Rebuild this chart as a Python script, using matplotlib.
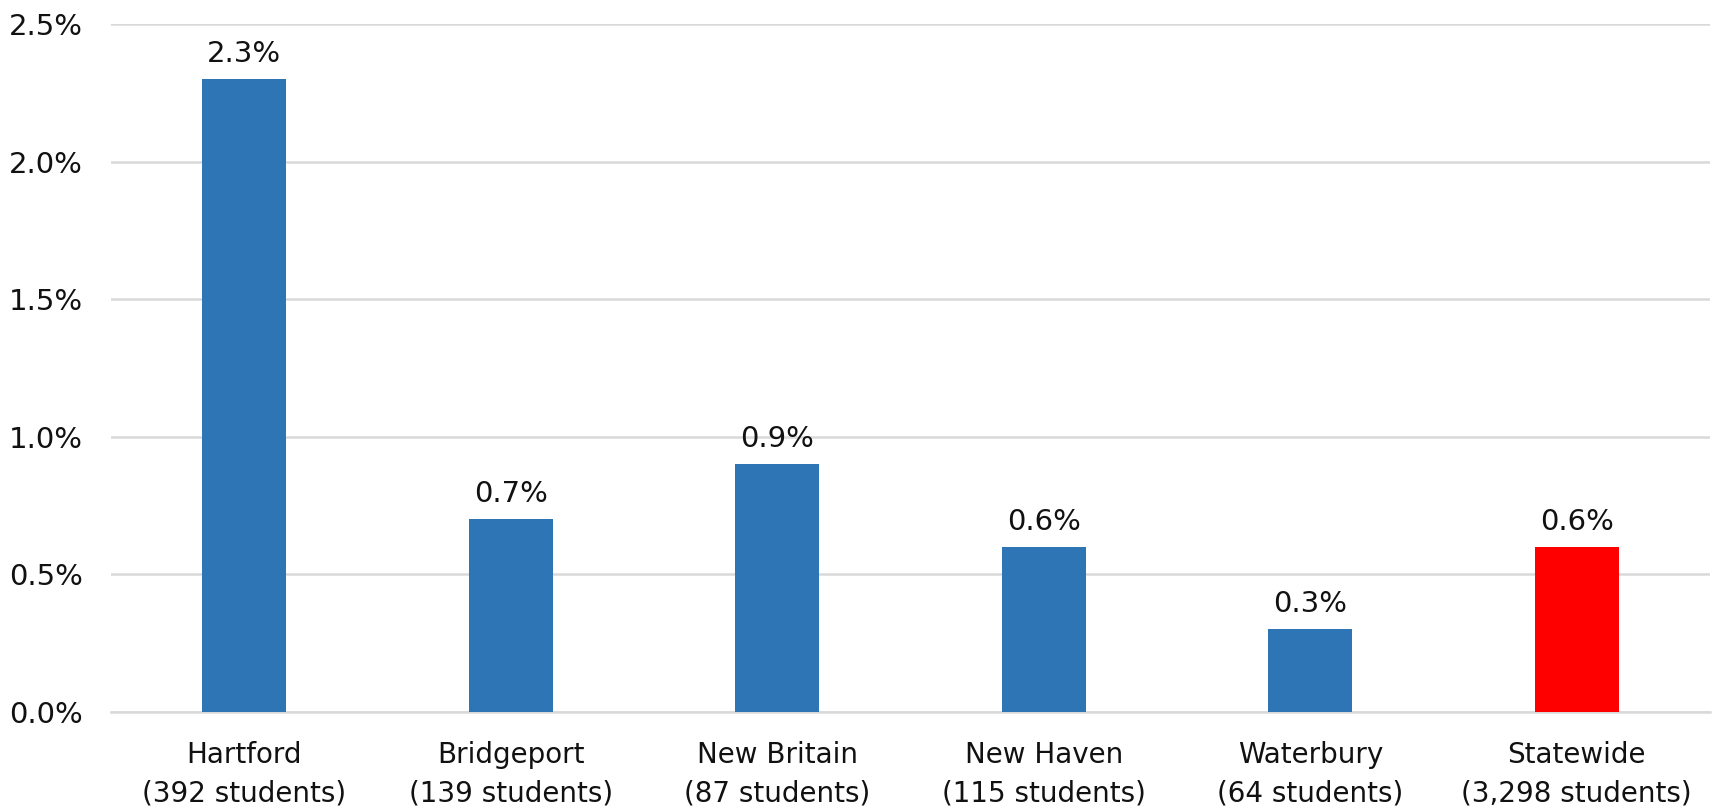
import matplotlib
matplotlib.use("Agg")
import matplotlib.pyplot as plt
from matplotlib.ticker import FuncFormatter

categories = ["Hartford\n(392 students)", "Bridgeport\n(139 students)", "New Britain\n(87 students)",
              "New Haven\n(115 students)", "Waterbury\n(64 students)", "Statewide\n(3,298 students)"]
values = [2.3, 0.7, 0.9, 0.6, 0.3, 0.6]
colors = ["#2E75B6", "#2E75B6", "#2E75B6", "#2E75B6", "#2E75B6", "#FF0000"]
yticks = [0.0, 0.5, 1.0, 1.5, 2.0, 2.5]

plt.rcParams['font.family'] = ['DejaVu Sans']

fig = plt.figure(figsize=(17.12, 8.10), dpi=100)
ax = fig.add_axes([111/1712, 1 - 712/810, (1710-111)/1712, (712-24)/810])

x = list(range(len(categories)))
bars = ax.bar(x, values, width=0.315, color=colors, zorder=3)
for xi, v in zip(x, values):
    ax.annotate(f"{v:.1f}%", (xi, v), xytext=(0, 8), textcoords="offset points",
                ha="center", va="bottom", fontsize=21, color="#111111")

ax.set_xlim(-0.5, len(categories) - 0.5)
ax.set_ylim(0, 2.5)
ax.set_yticks(yticks)
ax.yaxis.set_major_formatter(FuncFormatter(lambda v, p: f"{v:.1f}%"))
ax.set_xticks(x)
ax.set_xticklabels(categories, fontsize=20, color="#111111", linespacing=1.45)
ax.tick_params(axis="y", length=0, pad=20, labelsize=21, labelcolor="#111111")
ax.tick_params(axis="x", length=0, pad=21)
ax.grid(axis="y", color="#D9D9D9", linewidth=1.8, zorder=0)
for s in ["top", "right", "left"]:
    ax.spines[s].set_visible(False)
ax.spines["bottom"].set_color("#D9D9D9")
ax.spines["bottom"].set_linewidth(1.8)

fig.savefig("out.png", dpi=100)
